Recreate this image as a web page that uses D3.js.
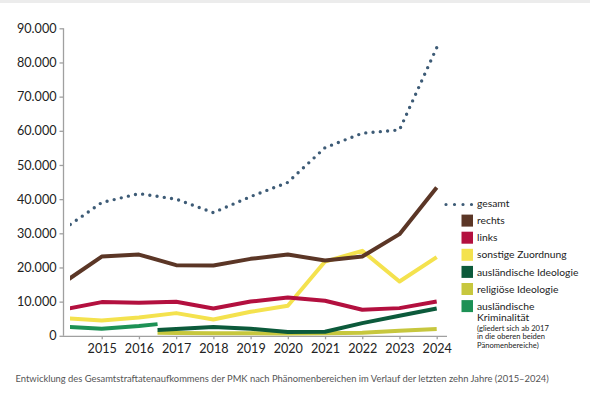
<!DOCTYPE html>
<html>
<head>
<meta charset="utf-8">
<script src="https://cdn.jsdelivr.net/npm/d3@7"></script>
<style>
  html, body { margin: 0; padding: 0; background: #fff; }
  body { width: 590px; height: 397px; overflow: hidden; }
  text { font-family: Lato, "Open Sans", sans-serif; }
</style>
</head>
<body>
<div id="chart"></div>
<script>
// Werte (PMK, Fälle)
const years = [2014, 2015, 2016, 2017, 2018, 2019, 2020, 2021, 2022, 2023, 2024];
const tickYears = [2015, 2016, 2017, 2018, 2019, 2020, 2021, 2022, 2023, 2024];
const gesamt = [31400, 38990, 41620, 39980, 36060, 40740, 44900, 55070, 59290, 60250, 84320];
const rechts = [15750, 23190, 23780, 20680, 20560, 22520, 23780, 22020, 23190, 29750, 43380];
const links = [7730, 9860, 9650, 9940, 7990, 10030, 11200, 10240, 7610, 8100, 10030];
const sonstige = [5180, 4480, 5350, 6640, 4770, 7020, 8780, 21730, 24860, 15880, 23020];

// bis Mitte 2016 "ausländische Kriminalität", danach aufgeteilt
const krimYears = [2014, 2015, 2016, 2016.5];
const auslKrim = [2650, 2050, 2840, 3420];
const ideoYears = [2016.5, 2017, 2018, 2019, 2020, 2021, 2022, 2023, 2024];
const auslIdeo = [1670, 1960, 2550, 2050, 1080, 1170, 3710, 5850, 7990];
const religIdeo = [880, 790, 730, 730, 670, 730, 880, 1460, 1960];

const yTicks = [0, 10000, 20000, 30000, 40000, 50000, 60000, 70000, 80000, 90000];

const legendLabels = ["gesamt", "rechts", "links", "sonstige Zuordnung", "ausländische Ideologie", "religiöse Ideologie", "ausländische"];
const legendNote = ["Kriminalität", "(gliedert sich ab 2017", "in die oberen beiden", "Pänomenbereiche)"];
const caption = "Entwicklung des Gesamtstraftatenaufkommens der PMK nach Phänomenbereichen im Verlauf der letzten zehn Jahre (2015–2024)";

const colors = {
  gesamt: "#3d5b76",
  rechts: "#5b3626",
  links: "#b3103f",
  sonstige: "#f4e24e",
  auslIdeo: "#0c5a3b",
  religIdeo: "#c7c73e",
  auslKrim: "#1d9155"
};

const width = 590, height = 397;
const margin = { top: 28, left: 63, bottom: 61 };

const svg = d3.select("#chart").append("svg")
  .attr("width", width)
  .attr("height", height);

// grauer Streifen oben
svg.append("rect").attr("x", 0).attr("y", 0).attr("width", width).attr("height", 3).attr("fill", "#ececec");

const x = d3.scaleLinear().domain([2014, 2024]).range([64.5, 436.7]);
const y = d3.scaleLinear().domain([0, 90000]).range([height - margin.bottom - 0.2, margin.top + 0.3]);

const de = d3.formatLocale({ decimal: ",", thousands: ".", grouping: [3], currency: ["", " €"] });

svg.append("defs").append("clipPath").attr("id", "plot")
  .append("rect").attr("x", 70).attr("y", 0).attr("width", 400).attr("height", height);

// y-Achse
const yAxis = svg.append("g")
  .attr("transform", `translate(${margin.left + 0.5},0)`)
  .call(d3.axisLeft(y).tickValues(yTicks).tickFormat(de.format(",")).tickSize(4).tickPadding(3));
yAxis.select(".domain").attr("stroke", "#a0a0a0").attr("stroke-width", 1.3).attr("d", `M0,${y(90000)}V${y(0)}`);
yAxis.selectAll(".tick line").attr("stroke", "#a0a0a0").attr("stroke-width", 1.3);
yAxis.selectAll(".tick text").attr("fill", "#222").style("font-size", "12.6px");

// x-Achse
const xAxis = svg.append("g")
  .attr("transform", `translate(0,${y(0) + 0.5})`)
  .call(d3.axisBottom(x).tickValues(tickYears).tickFormat(d3.format("d")).tickSize(3).tickPadding(5));
xAxis.select(".domain").attr("stroke", "#a0a0a0").attr("stroke-width", 1.3).attr("d", `M${margin.left},0H447`);
xAxis.selectAll(".tick line").attr("stroke", "#a0a0a0").attr("stroke-width", 1.3);
xAxis.selectAll(".tick text").attr("fill", "#222").style("font-size", "12.6px");

const line = d3.line().x(d => x(d[0])).y(d => y(d[1]));

const series = [
  { xs: ideoYears, vals: religIdeo, color: colors.religIdeo },
  { xs: ideoYears, vals: auslIdeo, color: colors.auslIdeo },
  { xs: krimYears, vals: auslKrim, color: colors.auslKrim },
  { xs: years, vals: sonstige, color: colors.sonstige },
  { xs: years, vals: links, color: colors.links },
  { xs: years, vals: rechts, color: colors.rechts }
];

const plot = svg.append("g").attr("clip-path", "url(#plot)");

plot.selectAll("path.serie")
  .data(series)
  .join("path")
  .attr("class", "serie")
  .attr("fill", "none")
  .attr("stroke", d => d.color)
  .attr("stroke-width", 4)
  .attr("stroke-linejoin", "round")
  .attr("d", d => line(d.xs.map((yr, i) => [yr, d.vals[i]])));

// gesamt gepunktet (von 2024 rückwärts, damit ein Punkt am Ende sitzt)
plot.append("path")
  .attr("fill", "none")
  .attr("stroke", colors.gesamt)
  .attr("stroke-width", 3.4)
  .attr("stroke-linecap", "round")
  .attr("stroke-dasharray", "0 7.3")
  .attr("d", line(years.map((yr, i) => [yr, gesamt[i]]).reverse()));

// Legende
const legendColors = [colors.gesamt, colors.rechts, colors.links, colors.sonstige, colors.auslIdeo, colors.religIdeo, colors.auslKrim];
const legend = svg.append("g");
const rowY = d => 203.5 + d * 17.1;

legend.append("path")
  .attr("fill", "none")
  .attr("stroke", colors.gesamt)
  .attr("stroke-width", 3.2)
  .attr("stroke-linecap", "round")
  .attr("stroke-dasharray", "0 8.5")
  .attr("d", `M446,${rowY(0) + 1}H472`);

legend.selectAll("rect.sw")
  .data(legendColors.slice(1))
  .join("rect")
  .attr("class", "sw")
  .attr("x", 461.5)
  .attr("y", (d, i) => rowY(i + 1) - 6)
  .attr("width", 11.5)
  .attr("height", 12)
  .attr("fill", d => d);

legend.selectAll("text.lab")
  .data(legendLabels)
  .join("text")
  .attr("class", "lab")
  .attr("x", 477)
  .attr("y", (d, i) => rowY(i))
  .attr("dy", "0.35em")
  .attr("fill", "#222")
  .style("font-size", "10.3px")
  .text(d => d);

legend.selectAll("text.note")
  .data(legendNote)
  .join("text")
  .attr("class", "note")
  .attr("x", 477)
  .attr("y", (d, i) => i === 0 ? 317.5 : 328 + (i - 1) * 8.5)
  .attr("dy", "0.35em")
  .attr("fill", "#222")
  .style("font-size", (d, i) => i === 0 ? "10.3px" : "7.6px")
  .text(d => d);

// Bildunterschrift
svg.append("text")
  .attr("x", 15.5)
  .attr("y", 379)
  .attr("dy", "0.35em")
  .attr("fill", "#555")
  .style("font-size", "9.4px")
  .text(caption);
</script>
</body>
</html>
